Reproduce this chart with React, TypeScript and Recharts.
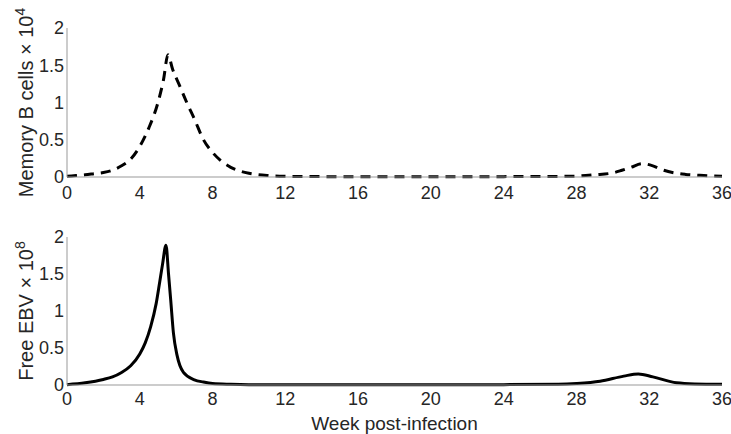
import React from "react";
import { LineChart, Line, XAxis, YAxis } from "recharts";

// weeks post-infection
const memWeeks = [0, 0.5, 1, 1.5, 2, 2.5, 3, 3.5, 4, 4.5, 5, 5.3, 5.55, 5.8, 6.2, 6.6, 7, 7.5, 8, 8.5, 9, 9.5, 10, 11, 12, 14, 16, 20, 24, 27, 28, 29, 30, 30.5, 31, 31.6, 32.2, 32.8, 33.5, 34, 35, 36];
// memory B cells x 10^4
const memValues = [0.01, 0.02, 0.03, 0.045, 0.06, 0.09, 0.15, 0.24, 0.41, 0.66, 1.0, 1.3, 1.64, 1.45, 1.22, 0.99, 0.78, 0.5, 0.33, 0.21, 0.13, 0.08, 0.05, 0.02, 0.01, 0.005, 0.003, 0.003, 0.005, 0.008, 0.012, 0.03, 0.055, 0.09, 0.13, 0.18, 0.15, 0.09, 0.05, 0.035, 0.02, 0.01];

const ebvWeeks = [0, 1, 2, 2.5, 3, 3.5, 4, 4.3, 4.6, 4.9, 5.1, 5.25, 5.44, 5.58, 5.7, 5.85, 6.05, 6.4, 7, 7.5, 8, 9, 10, 12, 16, 20, 24, 27, 28, 29.3, 30.6, 31.4, 32.2, 33.5, 34.5, 36];
// free EBV x 10^8
const ebvValues = [0.005, 0.03, 0.075, 0.11, 0.17, 0.26, 0.42, 0.57, 0.79, 1.1, 1.4, 1.63, 1.89, 1.5, 1.15, 0.7, 0.4, 0.17, 0.07, 0.04, 0.02, 0.01, 0.005, 0.003, 0.002, 0.002, 0.005, 0.01, 0.02, 0.05, 0.12, 0.15, 0.11, 0.03, 0.015, 0.01];

const xTicks = [0, 4, 8, 12, 16, 20, 24, 28, 32, 36];
const yTicks = [0, 0.5, 1, 1.5, 2];

const memData = memWeeks.map((w, i) => ({ week: w, value: memValues[i] }));
const ebvData = ebvWeeks.map((w, i) => ({ week: w, value: ebvValues[i] }));

const FONT = '"Liberation Sans", Arial, sans-serif';
const TEXT = "#262626";
const AXIS = "#999999";

function YTitle(props: any) {
  const { viewBox, text, exp } = props;
  const cx = 33;
  const cy = viewBox ? viewBox.y + viewBox.height / 2 : 100;
  return (
    <text x={cx} y={cy} transform={`rotate(-90, ${cx}, ${cy})`} textAnchor="middle" fontSize={20} fill={TEXT} fontFamily={FONT}>
      {text}
      <tspan dy={-8} fontSize={14}>{exp}</tspan>
    </text>
  );
}

export default function App() {
  const tick = { fontSize: 18, fill: TEXT, fontFamily: FONT };
  return (
    <div style={{ position: "absolute", left: 0, top: 0, width: 731, height: 434, background: "#fff", fontFamily: FONT }}>
      <LineChart width={731} height={207} data={memData} margin={{ top: 28, right: 9, bottom: 0, left: 0 }}>
        <XAxis dataKey="week" type="number" domain={[0, 36]} ticks={xTicks} tick={tick} stroke={AXIS} tickLine={false} tickSize={0} tickMargin={9} height={30} />
        <YAxis domain={[0, 2]} ticks={yTicks} tick={tick} stroke={AXIS} tickLine={false} tickSize={0} tickMargin={3} width={67}
          label={<YTitle text="Memory B cells × 10" exp="4" />} />
        <Line type="monotone" dataKey="value" stroke="#000" strokeWidth={3} strokeDasharray="10 7" dot={false} isAnimationActive={false} />
      </LineChart>
      <LineChart width={731} height={227} data={ebvData} margin={{ top: 30, right: 9, bottom: 0, left: 0 }}>
        <XAxis dataKey="week" type="number" domain={[0, 36]} ticks={xTicks} tick={tick} stroke={AXIS} tickLine={false} tickSize={0} tickMargin={7} height={49}
          label={{ value: "Week post-infection", position: "insideBottom", offset: 4, fontSize: 19, fill: TEXT, fontFamily: FONT }} />
        <YAxis domain={[0, 2]} ticks={yTicks} tick={tick} stroke={AXIS} tickLine={false} tickSize={0} tickMargin={3} width={67}
          label={<YTitle text="Free EBV × 10" exp="8" />} />
        <Line type="monotone" dataKey="value" stroke="#000" strokeWidth={3} dot={false} isAnimationActive={false} />
      </LineChart>
    </div>
  );
}
